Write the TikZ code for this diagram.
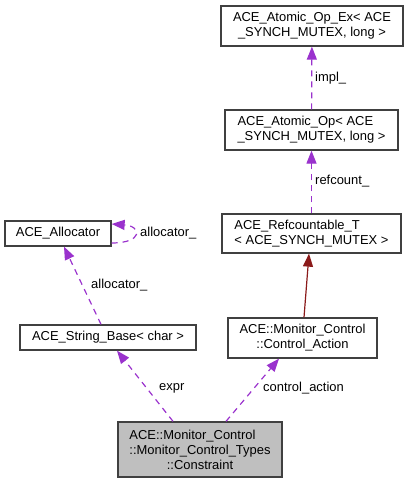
\documentclass[tikz,border=0pt]{standalone}
\usepackage{xcolor}
\usepackage{fontspec}
\setmainfont{Liberation Sans}
\usepackage{tikz}
\usetikzlibrary{arrows.meta}
\definecolor{memberpurple}{HTML}{9A32CD}
\definecolor{inheritred}{HTML}{8B1A1A}

\begin{document}
\begin{tikzpicture}[x=1bp, y=-1bp, >={Triangle[length=13bp,width=10bp]},
  main/.style = {draw=black!75, line width=1.3bp, rectangle, inner sep=0pt, font=\fontsize{13}{15}\selectfont},
  root/.style = {main, fill=black!25},
  member/.style = {draw=memberpurple, line width=1.2bp, dash pattern=on 6bp off 5bp},
  inherit/.style = {draw=inheritred, line width=1.2bp},
  lbl/.style = {anchor=west, inner sep=1bp, font=\fontsize{13}{15}\selectfont}]
\useasboundingbox (0,0) rectangle (409,483);
\node[main, minimum width=182bp, minimum height=40bp, align=center] (ex) at (312,26) {ACE\_Atomic\_Op\_Ex< ACE\\\_SYNCH\_MUTEX, long >};
\node[main, minimum width=173bp, minimum height=40bp, align=left] (op) at (311.5,130) {ACE\_Atomic\_Op< ACE\\\_SYNCH\_MUTEX, long >};
\node[main, minimum width=179bp, minimum height=39bp, align=left] (ref) at (311.5,233.5) {ACE\_Refcountable\_T\\< ACE\_SYNCH\_MUTEX >};
\node[main, minimum width=106bp, minimum height=25bp] (alloc) at (58,233.5) {ACE\_Allocator};
\node[main, minimum width=176bp, minimum height=25bp] (str) at (108,337.5) {ACE\_String\_Base< char >};
\node[main, minimum width=149bp, minimum height=40bp, align=center] (ca) at (302.5,338) {ACE::Monitor\_Control\\::Control\_Action};
\node[root, minimum width=164bp, minimum height=55bp, align=left] (con) at (200,449.5) {ACE::Monitor\_Control\\::Monitor\_Control\_Types\\\hspace*{\fill}::Constraint\hspace*{\fill}};
% edge labels
\node[lbl] (limpl) at (314,78) {impl\_};
\node[lbl] (lref) at (314,181) {refcount\_};
\node[lbl] (lself) at (139,233) {allocator\_};
\node[lbl] (lalloc) at (90,285) {allocator\_};
\node[lbl] (lexpr) at (158,388) {expr};
\node[lbl] (lca) at (262,388) {control\_action};
\draw[member, ->] (op) -- (ex);
\draw[member, ->] (ref) -- (op);
\draw[inherit, ->] ([xshift=1.5bp]ca.north) -- ([xshift=-2.5bp]ref.south);
\draw[member, ->] ([yshift=-9.5bp]alloc.east) .. controls +(32,0) and +(30,2) .. ([yshift=9.5bp]alloc.east);
\draw[member, ->] ([xshift=-7bp]str.north) -- ([xshift=6bp]alloc.south);
\draw[member, ->] ([xshift=-27bp]con.north) -- ([xshift=9bp]str.south);
\draw[member, ->] ([xshift=26bp]con.north) -- ([xshift=-23.5bp]ca.south);
\end{tikzpicture}
\end{document}
